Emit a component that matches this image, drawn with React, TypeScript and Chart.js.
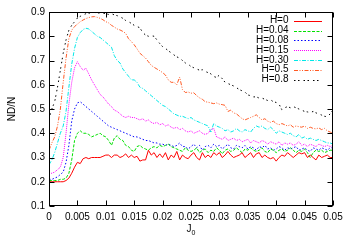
import React, { useEffect, useRef } from "react";
import { Chart, registerables } from "chart.js";

Chart.register(...registerables);

const J_VALUES = [
  0, 0.0005, 0.001, 0.0015, 0.002, 0.0025, 0.003, 0.0035, 0.004, 0.0045,
  0.005, 0.0055, 0.006, 0.0065, 0.007, 0.0075, 0.008, 0.0085, 0.009, 0.0095,
  0.01, 0.0105, 0.011, 0.0115, 0.012, 0.0125, 0.013, 0.0135, 0.014, 0.0145,
  0.015, 0.0155, 0.016, 0.0165, 0.017, 0.0175, 0.018, 0.0185, 0.019, 0.0195,
  0.02, 0.0205, 0.021, 0.0215, 0.022, 0.0225, 0.023, 0.0235, 0.024, 0.0245,
  0.025, 0.0255, 0.026, 0.0265, 0.027, 0.0275, 0.028, 0.0285, 0.029, 0.0295,
  0.03, 0.0305, 0.031, 0.0315, 0.032, 0.0325, 0.033, 0.0335, 0.034, 0.0345,
  0.035, 0.0355, 0.036, 0.0365, 0.037, 0.0375, 0.038, 0.0385, 0.039, 0.0395,
  0.04, 0.0405, 0.041, 0.0415, 0.042, 0.0425, 0.043, 0.0435, 0.044, 0.0445,
  0.045, 0.0455, 0.046, 0.0465, 0.047, 0.0475, 0.048, 0.0485, 0.049, 0.0495,
  0.05,
];

const H_0 = [
  0.2, 0.2, 0.2, 0.2, 0.2, 0.2,
  0.205, 0.215, 0.235, 0.26, 0.28,
  0.275, 0.295, 0.3, 0.295, 0.3, 0.3, 0.3, 0.3, 0.305, 0.31,
  0.31, 0.3, 0.31, 0.31, 0.3, 0.305, 0.315, 0.3, 0.31, 0.3,
  0.305, 0.285, 0.29, 0.29, 0.33, 0.31, 0.32, 0.3, 0.315, 0.3,
  0.32, 0.29, 0.31, 0.3, 0.325, 0.29, 0.31, 0.3, 0.295, 0.31,
  0.32, 0.3, 0.29, 0.32, 0.3, 0.31, 0.3, 0.32, 0.31, 0.32,
  0.3, 0.31, 0.325, 0.31, 0.3, 0.305, 0.31, 0.32, 0.3, 0.31,
  0.32, 0.3, 0.315, 0.32, 0.3, 0.31, 0.3, 0.295, 0.3, 0.285,
  0.3, 0.31, 0.305, 0.32, 0.31, 0.3, 0.31, 0.32, 0.315, 0.32,
  0.3, 0.31, 0.3, 0.29, 0.31, 0.3, 0.305, 0.31, 0.3, 0.3,
];

const H_004 = [
  0.205, 0.205, 0.205, 0.205, 0.21, 0.21,
  0.215, 0.235, 0.29, 0.37, 0.4,
  0.41, 0.4, 0.4, 0.395, 0.385, 0.39, 0.395, 0.4, 0.39, 0.385,
  0.37, 0.35, 0.38, 0.39, 0.375, 0.37, 0.35, 0.345, 0.33, 0.325,
  0.345, 0.35, 0.34, 0.335, 0.33, 0.34, 0.345, 0.34, 0.35, 0.345,
  0.35, 0.355, 0.345, 0.34, 0.335, 0.33, 0.325, 0.34, 0.33, 0.325,
  0.33, 0.34, 0.32, 0.33, 0.335, 0.32, 0.33, 0.325, 0.34, 0.33,
  0.315, 0.33, 0.335, 0.325, 0.33, 0.34, 0.33, 0.32, 0.335, 0.33,
  0.34, 0.33, 0.325, 0.33, 0.34, 0.325, 0.32, 0.335, 0.33, 0.32,
  0.33, 0.335, 0.325, 0.33, 0.34, 0.33, 0.32, 0.33, 0.325, 0.335,
  0.32, 0.3, 0.32, 0.33, 0.325, 0.33, 0.32, 0.325, 0.33, 0.33,
];

const H_008 = [
  0.21, 0.21, 0.215, 0.22, 0.23, 0.24,
  0.28, 0.35, 0.45, 0.5, 0.525,
  0.53, 0.52, 0.51, 0.5, 0.49, 0.48, 0.47, 0.46, 0.45, 0.44,
  0.43, 0.425, 0.42, 0.415, 0.41, 0.405, 0.4, 0.395, 0.39, 0.385,
  0.385, 0.38, 0.375, 0.37, 0.37, 0.365, 0.36, 0.36, 0.355, 0.355,
  0.35, 0.355, 0.35, 0.345, 0.35, 0.36, 0.345, 0.345, 0.335, 0.345,
  0.355, 0.34, 0.35, 0.33, 0.345, 0.35, 0.34, 0.355, 0.345, 0.35,
  0.335, 0.345, 0.355, 0.34, 0.335, 0.35, 0.345, 0.34, 0.35, 0.335,
  0.345, 0.34, 0.33, 0.345, 0.34, 0.35, 0.335, 0.34, 0.33, 0.335,
  0.345, 0.34, 0.33, 0.34, 0.335, 0.34, 0.345, 0.33, 0.335, 0.34,
  0.33, 0.325, 0.34, 0.335, 0.33, 0.34, 0.335, 0.33, 0.34, 0.34,
];

const H_015 = [
  0.235, 0.235, 0.24, 0.25, 0.26, 0.3,
  0.4, 0.52, 0.61, 0.67, 0.695,
  0.675, 0.66, 0.668, 0.645, 0.62, 0.6, 0.58, 0.56, 0.55, 0.535,
  0.52, 0.51, 0.495, 0.49, 0.48, 0.47, 0.465, 0.47, 0.465, 0.465,
  0.46, 0.455, 0.46, 0.45, 0.455, 0.445, 0.44, 0.445, 0.435, 0.44,
  0.43, 0.435, 0.425, 0.42, 0.425, 0.415, 0.42, 0.41, 0.405, 0.41,
  0.4, 0.405, 0.41, 0.4, 0.395, 0.4, 0.415, 0.42, 0.385, 0.38,
  0.375, 0.385, 0.37, 0.375, 0.38, 0.37, 0.375, 0.365, 0.37, 0.375,
  0.36, 0.37, 0.365, 0.36, 0.37, 0.365, 0.355, 0.365, 0.36, 0.355,
  0.365, 0.35, 0.36, 0.355, 0.36, 0.35, 0.355, 0.365, 0.35, 0.355,
  0.345, 0.355, 0.35, 0.345, 0.355, 0.35, 0.345, 0.35, 0.345, 0.35,
];

const H_030 = [
  0.27, 0.29, 0.32, 0.36, 0.4, 0.43,
  0.49, 0.59, 0.685, 0.75, 0.795,
  0.815, 0.828, 0.833, 0.83, 0.82, 0.81, 0.8, 0.795, 0.785, 0.775,
  0.765, 0.755, 0.72, 0.7, 0.69, 0.665, 0.65, 0.635, 0.62, 0.62,
  0.61, 0.59, 0.585, 0.575, 0.565, 0.555, 0.545, 0.535, 0.525, 0.515,
  0.51, 0.5, 0.49, 0.48, 0.475, 0.47, 0.47, 0.465, 0.46, 0.465,
  0.455, 0.45, 0.445, 0.44, 0.435, 0.43, 0.405, 0.44, 0.43, 0.425,
  0.42, 0.41, 0.415, 0.405, 0.41, 0.42, 0.41, 0.405, 0.415, 0.41,
  0.405, 0.42, 0.43, 0.425, 0.43, 0.42, 0.415, 0.425, 0.415, 0.4,
  0.41, 0.405, 0.4, 0.395, 0.4, 0.39, 0.385, 0.395, 0.38, 0.385,
  0.375, 0.38, 0.375, 0.37, 0.375, 0.37, 0.365, 0.36, 0.36, 0.355,
];

const H_05 = [
  0.33, 0.36, 0.385, 0.43, 0.5, 0.61,
  0.71, 0.79, 0.825, 0.84, 0.85,
  0.86, 0.867, 0.873, 0.877, 0.88, 0.881, 0.878, 0.874, 0.868, 0.86,
  0.855, 0.845, 0.838, 0.83, 0.826, 0.82, 0.812, 0.79, 0.778, 0.765,
  0.748, 0.73, 0.72, 0.71, 0.695, 0.68, 0.672, 0.665, 0.658, 0.65,
  0.64, 0.62, 0.61, 0.61, 0.6, 0.632, 0.58, 0.568, 0.57, 0.565,
  0.567, 0.555, 0.546, 0.54, 0.53, 0.528, 0.525, 0.522, 0.525, 0.52,
  0.518, 0.515, 0.49, 0.495, 0.484, 0.48, 0.47, 0.46, 0.455, 0.46,
  0.465, 0.47, 0.476, 0.465, 0.455, 0.46, 0.45, 0.445, 0.45, 0.44,
  0.435, 0.44, 0.435, 0.43, 0.435, 0.425, 0.43, 0.427, 0.425, 0.43,
  0.42, 0.425, 0.42, 0.418, 0.422, 0.415, 0.42, 0.41, 0.405, 0.4,
];

const H_08 = [
  0.46, 0.5, 0.53, 0.59, 0.66, 0.73,
  0.785, 0.825, 0.845, 0.86, 0.875,
  0.882, 0.888, 0.893, 0.895, 0.897, 0.898, 0.897, 0.895, 0.895, 0.893,
  0.89, 0.893, 0.888, 0.885, 0.88, 0.874, 0.865, 0.86, 0.853, 0.845,
  0.84, 0.835, 0.815, 0.805, 0.8, 0.802, 0.8, 0.785, 0.77, 0.757,
  0.75, 0.74, 0.732, 0.723, 0.715, 0.71, 0.7, 0.69, 0.685, 0.675,
  0.67, 0.665, 0.66, 0.662, 0.655, 0.65, 0.645, 0.634, 0.63, 0.64,
  0.625, 0.61, 0.605, 0.6, 0.595, 0.588, 0.58, 0.575, 0.57, 0.558,
  0.555, 0.55, 0.55, 0.545, 0.545, 0.54, 0.535, 0.538, 0.53, 0.527,
  0.52, 0.497, 0.505, 0.51, 0.505, 0.51, 0.505, 0.5, 0.495, 0.49,
  0.488, 0.485, 0.49, 0.484, 0.48, 0.475, 0.47, 0.468, 0.48, 0.495,
];

const SERIES_LABELS = ["H=0", "H=0.04", "H=0.08", "H=0.15", "H=0.30", "H=0.5", "H=0.8"];
const SERIES_VALUES = [H_0, H_004, H_008, H_015, H_030, H_05, H_08];
const SERIES_COLORS = ["#ff0000", "#00e000", "#0000ff", "#ff00ff", "#00e8e8", "#ff5a24", "#000000"];
const SERIES_DASHES: number[][] = [
  [],
  [3, 1.5],
  [1.5, 2],
  [1, 1],
  [4, 1.5, 1, 1.5],
  [4, 1.5, 1, 1.5, 1, 1.5],
  [1.5, 2.5, 1.5, 4],
];

const X_TICKS = [0, 0.005, 0.01, 0.015, 0.02, 0.025, 0.03, 0.035, 0.04, 0.045, 0.05];
const X_TICK_LABELS = ["0", "0.005", "0.01", "0.015", "0.02", "0.025", "0.03", "0.035", "0.04", "0.045", "0.05"];
const Y_TICKS = [0.1, 0.2, 0.3, 0.4, 0.5, 0.6, 0.7, 0.8, 0.9];
const Y_TICK_LABELS = ["0.1", "0.2", "0.3", "0.4", "0.5", "0.6", "0.7", "0.8", "0.9"];
const X_TITLE = "J";
const X_TITLE_SUB = "0";
const Y_TITLE = "ND/N";

const FONT = "'Liberation Sans', Arial, sans-serif";

const decorPlugin = {
  id: "decor",
  afterDraw(chart: any) {
    const { ctx, chartArea, scales } = chart;
    const { left, right, top, bottom } = chartArea;
    const xs = scales.x;
    const ys = scales.y;
    ctx.save();
    ctx.strokeStyle = "#000";
    ctx.lineWidth = 1;
    ctx.setLineDash([]);
    const L = Math.round(left) + 0.5;
    const R = Math.round(right) - 0.5;
    const T = Math.round(top) + 0.5;
    const B = Math.round(bottom) - 0.5;
    ctx.strokeRect(L, T, R - L, B - T);
    const tl = 5;
    ctx.beginPath();
    X_TICKS.forEach((v) => {
      const px = Math.round(xs.getPixelForValue(v)) + 0.5;
      ctx.moveTo(px, B);
      ctx.lineTo(px, B - tl);
      ctx.moveTo(px, T);
      ctx.lineTo(px, T + tl);
    });
    Y_TICKS.forEach((v) => {
      const py = Math.round(ys.getPixelForValue(v)) + 0.5;
      ctx.moveTo(L, py);
      ctx.lineTo(L + tl, py);
      ctx.moveTo(R, py);
      ctx.lineTo(R - tl, py);
    });
    ctx.stroke();

    // legend
    ctx.font = `10px ${FONT}`;
    ctx.fillStyle = "#000";
    ctx.textAlign = "right";
    ctx.textBaseline = "middle";
    SERIES_LABELS.forEach((lab, i) => {
      const y = 20.7 + i * 9.8;
      ctx.fillText(lab, 288.5, y);
      ctx.strokeStyle = SERIES_COLORS[i];
      ctx.setLineDash(SERIES_DASHES[i]);
      ctx.beginPath();
      const yy = Math.round(y) + 0.5;
      ctx.moveTo(294, yy);
      ctx.lineTo(322, yy);
      ctx.stroke();
    });
    ctx.setLineDash([]);

    // axis titles
    ctx.fillStyle = "#000";
    ctx.textAlign = "left";
    ctx.textBaseline = "alphabetic";
    ctx.font = `10px ${FONT}`;
    const jw = ctx.measureText(X_TITLE).width;
    ctx.font = `7px ${FONT}`;
    const sw = ctx.measureText(X_TITLE_SUB).width;
    const cx = (left + right) / 2;
    const sx = cx - (jw + sw) / 2;
    ctx.font = `10px ${FONT}`;
    ctx.fillText(X_TITLE, sx, 231.7);
    ctx.font = `7px ${FONT}`;
    ctx.fillText(X_TITLE_SUB, sx + jw, 235);

    ctx.font = `10px ${FONT}`;
    ctx.translate(12.5, (top + bottom) / 2);
    ctx.rotate(-Math.PI / 2);
    ctx.textAlign = "center";
    ctx.textBaseline = "middle";
    ctx.fillText(Y_TITLE, 0, 0);
    ctx.restore();
  },
};

export default function App() {
  const ref = useRef<HTMLCanvasElement | null>(null);
  useEffect(() => {
    if (!ref.current) return;
    const datasets = SERIES_LABELS.map((label, i) => ({
      label,
      data: J_VALUES.map((x, k) => ({ x, y: SERIES_VALUES[i][k] })),
      borderColor: SERIES_COLORS[i],
      borderDash: SERIES_DASHES[i],
      borderWidth: 1,
      pointRadius: 0,
      fill: false,
      tension: 0,
    }));
    const chart = new Chart(ref.current, {
      type: "line",
      data: { datasets },
      plugins: [decorPlugin],
      options: {
        animation: false,
        responsive: false,
        maintainAspectRatio: false,
        layout: { padding: { left: 0, top: 12, right: 17, bottom: 0 } },
        plugins: { legend: { display: false }, tooltip: { enabled: false } },
        scales: {
          x: {
            type: "linear",
            min: 0,
            max: 0.05,
            grid: { display: false, drawTicks: false },
            border: { display: false },
            afterBuildTicks: (s: any) => {
              s.ticks = X_TICKS.map((v) => ({ value: v }));
            },
            afterFit: (s: any) => {
              s.height = 39;
            },
            ticks: {
              color: "#000",
              padding: 5,
              maxRotation: 0,
              autoSkip: false,
              font: { family: FONT, size: 10 },
              callback: (v: any) => {
                const idx = X_TICKS.findIndex((t) => Math.abs(t - Number(v)) < 1e-9);
                return idx >= 0 ? X_TICK_LABELS[idx] : "";
              },
            },
          },
          y: {
            type: "linear",
            min: 0.1,
            max: 0.9,
            grid: { display: false, drawTicks: false },
            border: { display: false },
            afterBuildTicks: (s: any) => {
              s.ticks = Y_TICKS.map((v) => ({ value: v }));
            },
            afterFit: (s: any) => {
              s.width = 49;
            },
            ticks: {
              color: "#000",
              padding: 4,
              autoSkip: false,
              font: { family: FONT, size: 10 },
              callback: (v: any) => {
                const idx = Y_TICKS.findIndex((t) => Math.abs(t - Number(v)) < 1e-9);
                return idx >= 0 ? Y_TICK_LABELS[idx] : "";
              },
            },
          },
        },
      },
    });
    return () => chart.destroy();
  }, []);
  return (
    <div style={{ position: "fixed", left: 0, top: 0, width: 350, height: 245, background: "#fff" }}>
      <canvas ref={ref} width={350} height={245} style={{ width: 350, height: 245, display: "block" }} />
    </div>
  );
}
